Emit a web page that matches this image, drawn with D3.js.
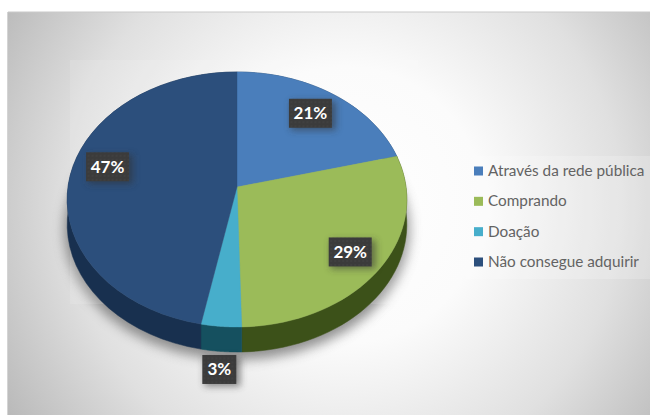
<!DOCTYPE html>
<html lang="pt"><head><meta charset="utf-8">
<script src="https://cdnjs.cloudflare.com/ajax/libs/d3/7.8.5/d3.min.js"></script>
<style>html,body{margin:0;padding:0;background:#fff}svg{display:block}</style>
</head><body><svg id="c" width="650" height="415"></svg>
<script>
const categories = ["Através da rede pública","Comprando","Doação","Não consegue adquirir"];
const values = [21.0,28.6,3.49,46.91];
const topColors = ["#4a7ebb","#9bbb59","#47aecb","#2c4f7c"];
const wallColors = ["#27466b","#3c5119","#15505f","#18304f"];

// layout of the tilted disc
const cx=237, cy=187, a=169, b=126.3, k=0.098, depth=25;
const labelPlace=[{r:.75,dx:0,dy:-3},{r:.8,dx:0,dy:1},{r:1.27,dx:3,dy:0},{r:.76,dx:-2.5,dy:-11}];

const svg=d3.select("#c");
const defs=svg.append("defs");
const bg=defs.append("radialGradient").attr("id","bg").attr("gradientUnits","userSpaceOnUse")
  .attr("cx",345).attr("cy",205).attr("r",395);
[[0,"#ffffff"],[.35,"#fbfbfb"],[.7,"#e0e0e0"],[1,"#bababa"]].forEach(s=>bg.append("stop").attr("offset",s[0]).attr("stop-color",s[1]));
defs.append("filter").attr("id","blur").attr("x","-20%").attr("y","-20%").attr("width","140%").attr("height","140%")
  .append("feGaussianBlur").attr("stdDeviation",6);
defs.append("filter").attr("id","blur2").attr("x","-50%").attr("y","-50%").attr("width","200%").attr("height","200%")
  .append("feGaussianBlur").attr("stdDeviation",3.5);
const pat=defs.append("pattern").attr("id","dots").attr("width",4).attr("height",4).attr("patternUnits","userSpaceOnUse");
pat.append("rect").attr("width",4).attr("height",4).attr("fill","#3b3b3b");
pat.append("circle").attr("cx",1).attr("cy",1).attr("r",.7).attr("fill","#494949");

svg.append("rect").attr("x",8).attr("y",12).attr("width",642).attr("height",403).attr("fill","url(#bg)");
svg.append("line").attr("x1",8).attr("x2",650).attr("y1",12).attr("y2",12).attr("stroke","#c9c9c9").attr("stroke-width",1);
svg.append("line").attr("x1",7.5).attr("x2",7.5).attr("y1",12).attr("y2",415).attr("stroke","#d4d4d4").attr("stroke-width",1);

const pie=d3.pie().sort(null).value(d=>d)(values);
const project=(ang,r=1,dy=0)=>{
  const u=Math.sin(ang)*r, v=-Math.cos(ang)*r, w=1-k*v;
  return [cx+a*u/w, cy+b*v/w+dy];
};
const samples=(s,e,r,dy)=>d3.range(0,41).map(i=>project(s+(e-s)*i/40,r,dy));
const line=d3.line();

// soft shadow under the disc
svg.append("path").attr("d",line(samples(0,2*Math.PI,1.02,depth+5))+"Z").attr("fill","#777").attr("opacity",.8).attr("filter","url(#blur)");
// pale glow around the disc
svg.append("rect").attr("x",70).attr("y",60).attr("width",348).attr("height",244).attr("fill","#fff").attr("opacity",.12);

// walls
svg.append("g").selectAll("path").data(pie).join("path")
  .attr("d",d=>line([...samples(d.startAngle,d.endAngle,1,0),...samples(d.endAngle,d.startAngle,1,depth)])+"Z")
  .attr("fill",(d,i)=>wallColors[i]).attr("stroke",(d,i)=>wallColors[i]).attr("stroke-width",.5);
// top faces
svg.append("g").selectAll("path").data(pie).join("path")
  .attr("d",d=>line([[cx,cy],...samples(d.startAngle,d.endAngle,1,0)])+"Z")
  .attr("fill",(d,i)=>topColors[i]).attr("stroke",(d,i)=>topColors[i]).attr("stroke-width",.4);

// data labels
const lab=svg.append("g").selectAll("g").data(pie).join("g").attr("transform",(d,i)=>{
  const p=project((d.startAngle+d.endAngle)/2,labelPlace[i].r,0);
  return `translate(${p[0]+labelPlace[i].dx},${p[1]+labelPlace[i].dy})`;
});
const bw=i=>d3.format(".0f")(values[i]).length>1?43:34;
lab.append("rect").attr("x",(d,i)=>-bw(i)/2+2).attr("y",-12).attr("width",(d,i)=>bw(i)+2).attr("height",29).attr("fill","#333").attr("opacity",.55).attr("filter","url(#blur2)");
lab.append("rect").attr("x",(d,i)=>-bw(i)/2).attr("y",-14.5).attr("width",(d,i)=>bw(i)).attr("height",29).attr("fill","url(#dots)");
lab.append("text").attr("text-anchor","middle").attr("y",6).attr("font-family","Lato, 'Open Sans', sans-serif").attr("font-weight",700).attr("font-size",17).attr("fill","#fff")
  .text((d,i)=>d3.format(".0f")(values[i])+"%");

// legend
const legendY=d3.scalePoint().domain(categories).range([171,262]);
svg.append("rect").attr("x",466).attr("y",156).attr("width",184).attr("height",123).attr("fill","#fff").attr("opacity",.2);
const lg=svg.append("g").selectAll("g").data(categories).join("g").attr("transform",d=>`translate(474,${legendY(d)})`);
lg.append("rect").attr("y",-4.5).attr("width",9).attr("height",9).attr("fill",(d,i)=>topColors[i]);
lg.append("text").attr("x",14).attr("y",5).attr("font-family","Lato, 'Open Sans', sans-serif").attr("font-size",15.3).attr("fill","#636363").text(d=>d);
</script></body></html>
